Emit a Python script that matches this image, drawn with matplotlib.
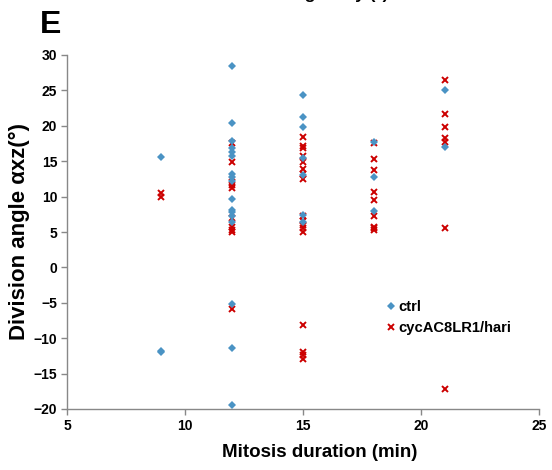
import matplotlib
matplotlib.use("Agg")
import matplotlib.pyplot as plt

# ctrl series (mitosis duration, division angle)
ctrl_x = [9, 9, 9,
          12, 12, 12, 12, 12, 12, 12, 12, 12, 12, 12, 12, 12, 12, 12, 12, 12,
          15, 15, 15, 15, 15, 15, 15,
          18, 18, 18,
          21, 21]
ctrl_y = [15.6, -11.8, -12.0,
          28.5, 20.4, 17.9, 16.8, 16.3, 15.8, 13.2, 12.8, 9.7, 8.1, 7.8, 6.4, -5.2, -11.4, -19.5, 7.3, 12.2,
          24.4, 21.3, 19.9, 15.5, 13.0, 7.4, 6.4,
          17.7, 12.8, 8.0,
          25.0, 17.0]

# cycAC8LR1/hari series
cyc_x = [9, 9,
         12, 12, 12, 12, 12, 12, 12, 12, 12, 12,
         15, 15, 15, 15, 15, 15, 15, 15, 15, 15, 15, 15, 15, 15, 15, 15, 15,
         18, 18, 18, 18, 18, 18, 18, 18, 18,
         21, 21, 21, 21, 21, 21, 21]
cyc_y = [10.5, 10.0,
         17.6, 14.9, 12.0, 11.6, 11.2, 7.0, 5.7, 5.3, 5.0, -5.9,
         18.4, 17.2, 16.8, 15.8, 14.9, 13.9, 13.2, 12.5, 7.2, 6.6, 6.0, 5.5, 5.0, -8.1, -12.0, -12.4, -13.0,
         17.5, 15.3, 13.7, 10.7, 9.5, 7.2, 5.7, 5.5, 5.3,
         26.5, 21.6, 19.8, 18.3, 17.7, 5.5, -17.2]

x_ticks = [5, 10, 15, 20, 25]
y_ticks = [-20, -15, -10, -5, 0, 5, 10, 15, 20, 25, 30]

plt.rcParams['font.family'] = ['Liberation Sans', 'DejaVu Sans']

fig = plt.figure(figsize=(5.52, 4.70), dpi=100)
ax = fig.add_axes([67/552, 1-409/470, (539-67)/552, (409-55)/470])

ax.plot(ctrl_x, ctrl_y, linestyle='none', marker='D', markersize=4.2,
        color='#4A93C4', markeredgewidth=0, label='ctrl', zorder=3)
ax.plot(cyc_x, cyc_y, linestyle='none', marker='x', markersize=5,
        color='#CC0000', markeredgewidth=1.4, label='cycAC8LR1/hari', zorder=2)

ax.set_xlim(5, 25)
ax.set_ylim(-20, 30)
ax.set_xticks(x_ticks)
ax.set_yticks(y_ticks)
for s in ['top', 'right']:
    ax.spines[s].set_visible(False)
for s in ['left', 'bottom']:
    ax.spines[s].set_color('#888888')
    ax.spines[s].set_linewidth(1.0)
ax.tick_params(axis='both', direction='out', length=4, width=1, color='#888888',
               labelsize=10, pad=3)
for lab in ax.get_xticklabels() + ax.get_yticklabels():
    lab.set_fontweight('bold')

ax.set_xlabel('Mitosis duration (min)', fontsize=13.5, fontweight='bold')
ax.xaxis.set_label_coords(0.536, -0.1)
ax.set_ylabel('Division angle αxz(°)', fontsize=16, fontweight='bold')
ax.yaxis.set_label_coords(-0.078, 0.5)

leg = ax.legend(loc='upper left', bbox_to_anchor=(0.648, 0.345), frameon=False,
                handlelength=0.6, handletextpad=0.2, labelspacing=0.5,
                prop={'weight': 'bold', 'size': 10.6})

fig.text(40/552, 1-10/470, 'E', fontsize=23, fontweight='bold', va='top', ha='left')
fig.text(300/552, 1+1/470, 'Division angle αxy (°)', fontsize=12.5, fontweight='bold',
         ha='center', va='baseline')

fig.savefig('out.png', dpi=100)
